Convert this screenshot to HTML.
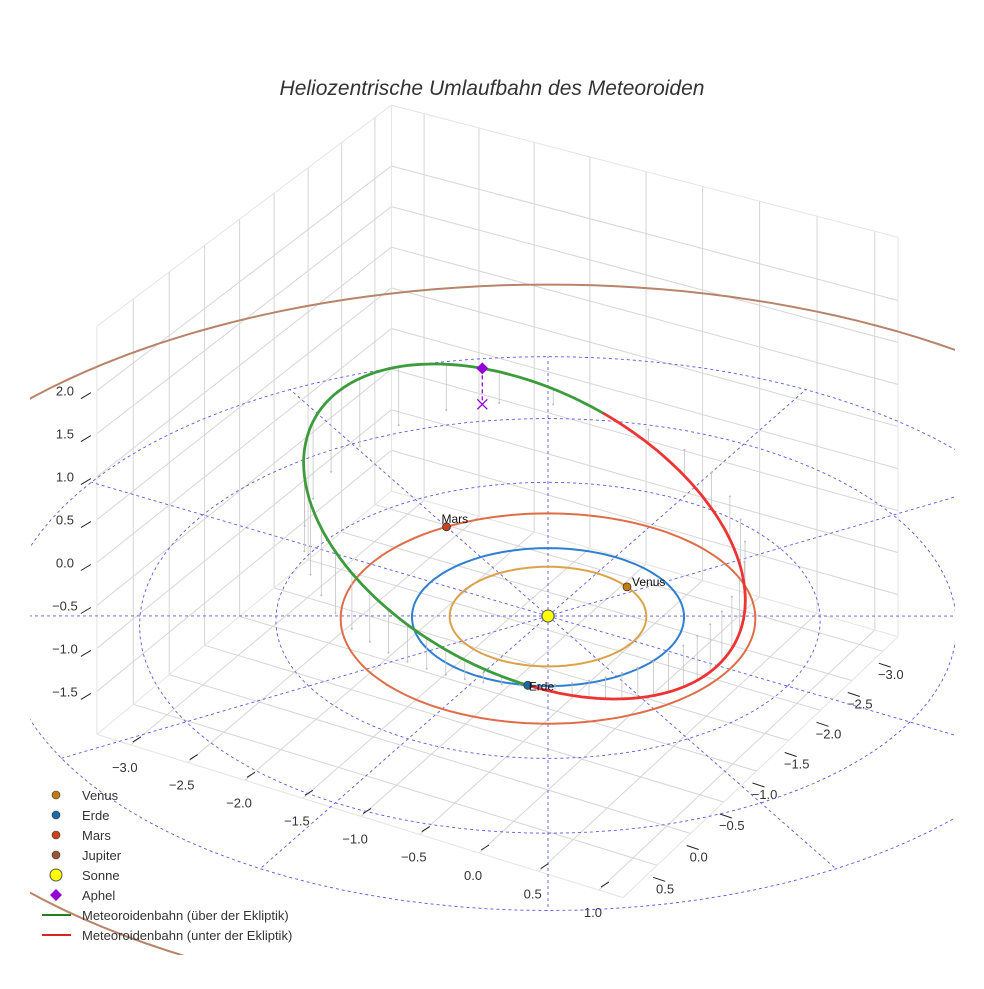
<!DOCTYPE html>
<html><head><meta charset="utf-8"><style>
html,body{margin:0;padding:0;background:#fff;}
svg text{font-family:"Liberation Sans",sans-serif;}
</style></head><body>
<svg id="chart" width="984" height="984" viewBox="0 0 984 984" xmlns="http://www.w3.org/2000/svg">
<defs><clipPath id="clip"><path d="M30 60H955V905L880 955H30Z"/></clipPath></defs>
<text x="492" y="95" text-anchor="middle" font-size="21" font-style="italic" fill="#333">Heliozentrische Umlaufbahn des Meteoroiden</text>
<g id="grid"></g>
<g id="plot" clip-path="url(#clip)"></g>
<g id="legend"></g>
</svg>
<script>
// ---- data ----
const xTicks = [-3.0,-2.5,-2.0,-1.5,-1.0,-0.5,0.0,0.5,1.0];
const yTicks = [-3.0,-2.5,-2.0,-1.5,-1.0,-0.5,0.0,0.5];
const zTicks = [-1.5,-1.0,-0.5,0.0,0.5,1.0,1.5,2.0];
const xRange = [-3.3, 1.2];
const yRange = [-3.25, 1.0];
const zRange = [-2.0, 2.75];
const ringRadii = [1,2,3,4];
const spokeAngles = [0,30,60,90,120,150,180,210,240,270,300,330];
const planetNames = ["Venus","Erde","Mars","Jupiter"];
const planetRadii = [0.723,1.0,1.524,5.203];
const planetAngles = [-66,68.4,210,110];
const sunPos = [0,0,0];
// meteoroid orbital elements: a [AU], e, i [deg], node [deg], arg of perihelion [deg]
const orbitA = [2.14];
const orbitE = [0.54];
const orbitI = [24.5];
const orbitNode = [68];
const orbitPeri = [341.5];

// ---- projection (affine + mild perspective) ----
const O=[548,616], EX=[117.8,34.5], EY=[-68,59.7], EZ=[0,-87], K=0.00023;
function P(x,y,z){const g=x*EX[1]+y*EY[1];const s=1/(1-K*g);
return [O[0]+s*(x*EX[0]+y*EY[0]+z*EZ[0]), O[1]+s*(x*EX[1]+y*EY[1]+z*EZ[1])];}
const NS="http://www.w3.org/2000/svg";
function mk(tag,attrs,parent){const e=document.createElementNS(NS,tag);for(const k in attrs)e.setAttribute(k,attrs[k]);parent.appendChild(e);return e;}
function line(parent,a,b,stroke,w,extra){return mk('line',Object.assign({x1:a[0].toFixed(1),y1:a[1].toFixed(1),x2:b[0].toFixed(1),y2:b[1].toFixed(1),stroke:stroke,'stroke-width':w},extra||{}),parent);}
function poly(parent,pts,stroke,w,extra){return mk('polyline',Object.assign({points:pts.map(p=>p[0].toFixed(1)+','+p[1].toFixed(1)).join(' '),fill:'none',stroke:stroke,'stroke-width':w},extra||{}),parent);}

const grid=document.getElementById('grid');
const plot=document.getElementById('plot');
const legend=document.getElementById('legend');
const [x0,x1]=xRange,[y0,y1]=yRange,[z0,z1]=zRange;
const GC='#d6d6d6';
xTicks.forEach(x=>{const l=line(grid,P(x,y0,z0),P(x,y1,z0),GC,1);

});
yTicks.forEach(y=>{const l=line(grid,P(x0,y,z0),P(x1,y,z0),GC,1);

});
yTicks.forEach(y=>{const l=line(grid,P(x0,y,z0),P(x0,y,z1),GC,1);

});
zTicks.forEach(z=>{const l=line(grid,P(x0,y0,z),P(x0,y1,z),GC,1);

});
xTicks.forEach(x=>{const l=line(grid,P(x,y0,z0),P(x,y0,z1),GC,1);

});
zTicks.forEach(z=>{const l=line(grid,P(x0,y0,z),P(x1,y0,z),GC,1);

});
[[P(x0,y1,z0),P(x0,y0,z0)],[P(x0,y0,z0),P(x1,y0,z0)],[P(x0,y0,z0),P(x0,y0,z1)],[P(x0,y1,z0),P(x1,y1,z0)],[P(x1,y1,z0),P(x1,y0,z0)],[P(x0,y1,z0),P(x0,y1,z1)],[P(x1,y0,z0),P(x1,y0,z1)],[P(x0,y1,z1),P(x0,y0,z1)],[P(x0,y0,z1),P(x1,y0,z1)]].forEach(s=>{
const l=line(grid,s[0],s[1],'#e4e4e4',1);

});
xTicks.forEach(x=>{const p=P(x,y1,z0);
const t=line(grid,[p[0]+2,p[1]-3],[p[0]+10,p[1]-8],'#222',1);


const tx=mk('text',{x:(p[0]-6).toFixed(1),y:(p[1]+27).toFixed(1),'text-anchor':'middle','font-size':13,fill:'#333'},grid);
tx.textContent=(x<0?'\u2212':'')+Math.abs(x).toFixed(1);

});
yTicks.forEach(y=>{const p=P(x1,y,z0);
const t=line(grid,[p[0]-4,p[1]+12],[p[0]+8,p[1]+16],'#222',1);


const tx=mk('text',{x:(p[0]+8).toFixed(1),y:(p[1]+28).toFixed(1),'text-anchor':'middle','font-size':13,fill:'#333'},grid);
tx.textContent=(y<0?'\u2212':'')+Math.abs(y).toFixed(1);

});
zTicks.forEach(z=>{const p=P(x0,y1,z);
const t=line(grid,[p[0]-16,p[1]+8],[p[0]-6,p[1]+2],'#222',1);


const tx=mk('text',{x:(p[0]-32).toFixed(1),y:(p[1]+5).toFixed(1),'text-anchor':'middle','font-size':13,fill:'#333'},grid);
tx.textContent=(z<0?'\u2212':'')+Math.abs(z).toFixed(1);

});

// ---- polar grid on ecliptic ----
const PG='#5a5ae6';
ringRadii.forEach(r=>{const pts=[];for(let a=0;a<=360;a+=3){const t=a*Math.PI/180;pts.push(P(r*Math.cos(t),r*Math.sin(t),0));}
const pl=poly(plot,pts,PG,0.9,{'stroke-dasharray':'3,3'});

});
spokeAngles.forEach(a=>{const t=a*Math.PI/180;const rmax=ringRadii[ringRadii.length-1];
const l=line(plot,P(0,0,0),P(rmax*Math.cos(t),rmax*Math.sin(t),0),PG,0.9,{'stroke-dasharray':'3,3'});

});

// ---- planet orbits ----
const orbitColors=['#dba24a','#2f7fd2','#df6d48','#b8846a'];
const dotColors=['#c47a12','#1b6aa8','#c9431d','#9a5535'];
planetRadii.forEach((r,i)=>{const pts=[];for(let a=0;a<=360;a+=2){const t=a*Math.PI/180;pts.push(P(r*Math.cos(t),r*Math.sin(t),0));}
const pl=poly(plot,pts,orbitColors[i],2);

});

// ---- meteoroid orbit ----
const A=orbitA[0],E=orbitE[0],I=orbitI[0]*Math.PI/180,N=orbitNode[0]*Math.PI/180,W=orbitPeri[0];
function orbPt(u){const nu=(u-W)*Math.PI/180;const r=A*(1-E*E)/(1+E*Math.cos(nu));const ur=u*Math.PI/180;
const xo=r*Math.cos(ur),yo=r*Math.sin(ur)*Math.cos(I),zo=r*Math.sin(ur)*Math.sin(I);
return [xo*Math.cos(N)-yo*Math.sin(N),xo*Math.sin(N)+yo*Math.cos(N),zo];}
for(let u=4;u<360;u+=8){const q=orbPt(u);const a=P(q[0],q[1],q[2]),b=P(q[0],q[1],0);
const l=line(plot,a,b,'#c4c4c4',0.8);


const c=mk('circle',{cx:b[0].toFixed(1),cy:b[1].toFixed(1),r:1,fill:'#bbb'},plot);

}
let green=[],red=[];
for(let u=0;u<=180;u+=1){const q=orbPt(u);green.push(P(q[0],q[1],q[2]));}
for(let u=180;u<=360;u+=1){const q=orbPt(u);red.push(P(q[0],q[1],q[2]));}
const gl=poly(plot,green,'#3c9c3c',2.8,{'stroke-linecap':'round'});


const rl=poly(plot,red,'#ee3333',2.8,{'stroke-linecap':'round'});



const sp=P(sunPos[0],sunPos[1],sunPos[2]);
const sun=mk('circle',{cx:sp[0],cy:sp[1],r:6,fill:'#ffff00',stroke:'#555','stroke-width':1},plot);


const lblOff=[[5,-1],[1,5],[-5,-4],[5,-2]];
planetRadii.forEach((r,i)=>{const t=planetAngles[i]*Math.PI/180;const p=P(r*Math.cos(t),r*Math.sin(t),0);
const c=mk('circle',{cx:p[0].toFixed(1),cy:p[1].toFixed(1),r:4,fill:dotColors[i],stroke:'#333','stroke-width':0.8},plot);


if(i<3){const tx=mk('text',{x:(p[0]+lblOff[i][0]).toFixed(1),y:(p[1]+lblOff[i][1]).toFixed(1),'font-size':12,fill:'#111'},plot);
tx.textContent=planetNames[i];

}});
const aq=orbPt(W+180);const ap=P(aq[0],aq[1],aq[2]),ag=P(aq[0],aq[1],0);
const al=line(plot,ap,ag,'#9400d3',1.3,{'stroke-dasharray':'4,3'});


const dm=mk('path',{d:`M${ap[0]} ${ap[1]-6}L${ap[0]+6} ${ap[1]}L${ap[0]} ${ap[1]+6}L${ap[0]-6} ${ap[1]}Z`,fill:'#9400d3'},plot);


const xm=mk('path',{d:`M${ag[0]-5} ${ag[1]-5}L${ag[0]+5} ${ag[1]+5}M${ag[0]+5} ${ag[1]-5}L${ag[0]-5} ${ag[1]+5}`,stroke:'#9400d3','stroke-width':1.3,fill:'none'},plot);



// ---- legend ----
const legendLabels=['Venus','Erde','Mars','Jupiter','Sonne','Aphel','Meteoroidenbahn (über der Ekliptik)','Meteoroidenbahn (unter der Ekliptik)'];
legendLabels.forEach((lab,i)=>{const y=795+i*20;const g=mk('g',{},legend);


if(i<4)mk('circle',{cx:56,cy:y,r:4,fill:dotColors[i],stroke:'#333','stroke-width':0.6},g);
else if(i==4)mk('circle',{cx:56,cy:y,r:6,fill:'#ffff00',stroke:'#555','stroke-width':1},g);
else if(i==5)mk('path',{d:`M56 ${y-6}L62 ${y}L56 ${y+6}L50 ${y}Z`,fill:'#9400d3'},g);
else mk('line',{x1:42,y1:y,x2:71,y2:y,stroke:i==6?'#1f7f1f':'#dd2222','stroke-width':2},g);
const tx=mk('text',{x:82,y:y+5,'font-size':13,fill:'#333'},g);tx.textContent=lab;});
</script>
</body></html>
